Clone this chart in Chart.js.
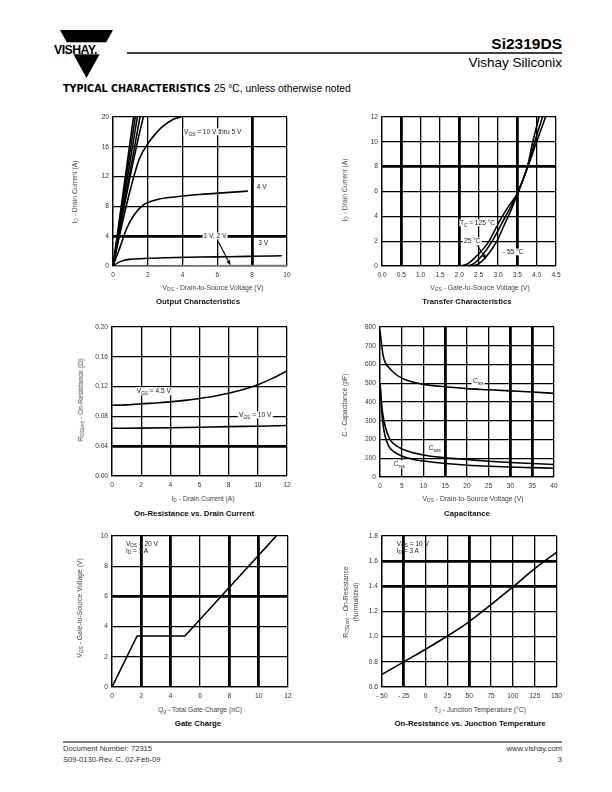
<!DOCTYPE html>
<html><head><meta charset="utf-8">
<script src="https://cdn.jsdelivr.net/npm/chart.js@4.4.1/dist/chart.umd.min.js"></script>
<style>
body{margin:0;width:612px;height:792px;position:relative;background:#fff;font-family:"Liberation Sans",Arial,sans-serif;overflow:hidden;color:#000}
.abs{position:absolute;white-space:nowrap;line-height:1}
canvas{position:absolute}
sub{font-size:72%;vertical-align:-0.3em;line-height:0}
.lbl{position:absolute;white-space:nowrap;font-size:6.6px;color:#222;background:#fff;padding:0 1px;transform:translate(-50%,-50%);line-height:1.1}
.lbll{position:absolute;white-space:nowrap;font-size:6.6px;color:#222;transform:translate(0,-50%);line-height:1}
.ytitle{position:absolute;white-space:nowrap;font-size:6.8px;color:#444;transform:translate(-50%,-50%) rotate(-90deg);text-align:center;line-height:1.5}
.xtitle{position:absolute;white-space:nowrap;font-size:6.8px;color:#444;transform:translate(-50%,-50%);line-height:1}
.ctitle{position:absolute;white-space:nowrap;font-size:7.8px;font-weight:bold;color:#111;transform:translate(-50%,-50%);line-height:1}
.foot{position:absolute;white-space:nowrap;line-height:1;font-size:7.6px;color:#333}
</style></head><body>

<svg class="abs" style="left:0;top:0" width="612" height="100">
  <polygon points="60,30 113,30 86.5,78" fill="#000"/>
  <rect x="50" y="42.3" width="70" height="12" fill="#fff"/>
  <line x1="127" y1="53" x2="562" y2="53" stroke="#000" stroke-width="1.4"/>
</svg>
<div class="abs" style="left:54px;top:43px;font-size:13px;font-weight:bold;letter-spacing:-0.6px;transform:scaleX(0.95);transform-origin:left">VISHAY.</div>
<div class="abs" style="right:50px;top:36px;font-size:15.5px;font-weight:bold">Si2319DS</div>
<div class="abs" style="right:50px;top:56px;font-size:13.5px">Vishay Siliconix</div>
<div class="abs" style="left:63px;top:84px;font-size:9.6px;font-weight:bold;font-family:'DejaVu Sans'">TYPICAL CHARACTERISTICS <span style="font-family:'Liberation Sans';font-weight:normal;font-size:10.3px">25 °C, unless otherwise noted</span></div>

<svg class="abs" style="left:0;top:735px" width="612" height="10">
  <line x1="63" y1="7" x2="562" y2="7" stroke="#000" stroke-width="1"/>
</svg>
<div class="foot" style="left:63px;top:745px">Document Number: 72315</div>
<div class="foot" style="left:63px;top:756px">S09-0130-Rev. C, 02-Feb-09</div>
<div class="foot" style="right:50px;top:745px">www.vishay.com</div>
<div class="foot" style="right:50px;top:756px">3</div>

<script>
// ---------- DATA ----------
// Output Characteristics (VDS V, ID A)
const outXTicks = ["0","2","4","6","8","10"];
const outYTicks = ["0","4","8","12","16","20"];
const outVgs10 = [[0,0],[1.18,20]];
const outVgs9  = [[0,0],[1.28,20]];
const outVgs8  = [[0,0],[1.40,20]];
const outVgs7  = [[0,0],[1.55,20]];
const outVgs6  = [[0,0],[0.5,6.3],[1.0,12.2],[1.4,16.6],[1.74,20]];
const outVgs5  = [[0,0],[0.5,5.4],[1.0,10.3],[1.5,14.3],[2.0,16.4],[2.5,17.9],[3.0,19.0],[3.4,19.6],[3.9,20]];
const outVgs4  = [[0,0],[0.4,2.5],[0.8,5.1],[1.2,6.8],[1.75,8.2],[2.5,8.9],[3.66,9.3],[5,9.6],[6.5,9.85],[7.75,10.05]];
const outVgs3  = [[0,0],[0.3,0.45],[0.6,0.75],[1,0.9],[1.75,1.0],[3,1.1],[5,1.2],[6.7,1.25],[8,1.3],[9.7,1.37]];
const outVgs12 = [[0,0],[5,0.03],[10,0.08]];

// Transfer Characteristics (VGS V, ID A)
const trXTicks = ["0.0","0.5","1.0","1.5","2.0","2.5","3.0","3.5","4.0","4.5"];
const trYTicks = ["0","2","4","6","8","10","12"];
const trT125 = [[0,0],[1.9,0],[2.2,0.15],[2.46,0.85],[2.75,1.9],[3.02,3.5],[3.25,4.7],[3.51,5.9],[3.76,7.9],[4.0,10.0],[4.23,12]];
const trT25  = [[0,0],[2.1,0],[2.35,0.15],[2.59,0.85],[2.85,2.0],[3.11,3.5],[3.3,4.6],[3.51,5.9],[3.76,7.95],[3.95,10],[4.15,12]];
const trTm55 = [[0,0],[2.2,0],[2.48,0.15],[2.72,0.85],[2.97,2.0],[3.19,3.5],[3.35,4.6],[3.51,5.9],[3.76,8.0],[3.9,10],[4.06,12]];

// On-Resistance vs Drain Current (ID A, RDS ohm)
const rdXTicks = ["0","2","4","6","8","10","12"];
const rdYTicks = ["0.00","0.04","0.08","0.12","0.16","0.20"];
const rdVgs45 = [[0,0.095],[1,0.0955],[2,0.097],[3,0.098],[4,0.0995],[5,0.1015],[6,0.104],[7,0.107],[8,0.111],[9,0.116],[10,0.1225],[11,0.131],[12,0.141]];
const rdVgs10 = [[0,0.064],[2,0.0643],[4,0.0648],[6,0.0655],[8,0.0663],[10,0.0668],[12,0.0677]];

// Capacitance (VDS V, pF)
const capXTicks = ["0","5","10","15","20","25","30","35","40"];
const capYTicks = ["0","100","200","300","400","500","600","700","800"];
const capCiss = [[0,780],[0.3,720],[0.7,650],[1.2,610],[2,585],[3,560],[5,527],[7.5,507],[10,494],[15,481],[20,471],[25,465],[30,459],[35,453],[40,446]];
const capCoss = [[0,500],[0.4,380],[0.9,300],[1.5,245],[2.2,205],[3,180],[5,150],[7.5,130],[10,117],[15,102],[20,93],[25,84],[30,77],[35,72],[40,67]];
const capCrss = [[0,500],[0.3,380],[0.7,280],[1.2,215],[2,165],[3,138],[5,112],[7.5,95],[10,85],[15,72],[20,63],[25,57],[30,53],[35,50],[40,47]];

// Gate Charge (Qg nC, VGS V)
const gcXTicks = ["0","2","4","6","8","10","12"];
const gcYTicks = ["0","2","4","6","8","10"];
const gcVgs = [[0,0],[1.71,3.38],[4.97,3.38],[11.2,10]];

// On-Resistance vs Junction Temperature (TJ degC, normalized)
const tjXTicks = ["- 50","- 25","0","25","50","75","100","125","150"];
const tjYTicks = ["0.6","0.8","1.0","1.2","1.4","1.6","1.8"];
const tjRds = [[-50,0.70],[-25,0.80],[0,0.90],[25,1.005],[50,1.12],[75,1.255],[100,1.395],[125,1.54],[150,1.67]];

// ---------- RENDER ----------
const FONT = {family:"'Liberation Sans', Arial, sans-serif", size:6.6};
const THIN = 1.3, THICK = 2.8;
const arrowPlugin = {
  id:'arrows',
  afterDatasetsDraw(chart, args, opts){
    const list = (opts && opts.list) || [];
    const ctx = chart.ctx, xs = chart.scales.x, ys = chart.scales.y;
    ctx.save();
    ctx.strokeStyle = '#000'; ctx.fillStyle = '#000'; ctx.lineWidth = 1.1;
    list.forEach(a=>{
      const x1 = xs.getPixelForValue(a.from[0]), y1 = ys.getPixelForValue(a.from[1]);
      const x2 = xs.getPixelForValue(a.to[0]), y2 = ys.getPixelForValue(a.to[1]);
      const ang = Math.atan2(y2-y1, x2-x1), L = 5, W = 2;
      const bx = x2 - L*Math.cos(ang), by = y2 - L*Math.sin(ang);
      ctx.beginPath(); ctx.moveTo(x1,y1); ctx.lineTo(bx,by); ctx.stroke();
      ctx.beginPath(); ctx.moveTo(x2,y2);
      ctx.lineTo(bx + W*Math.sin(ang), by - W*Math.cos(ang));
      ctx.lineTo(bx - W*Math.sin(ang), by + W*Math.cos(ang));
      ctx.closePath(); ctx.fill();
    });
    ctx.restore();
  }
};

function near(arr, v){ return arr.some(a=>Math.abs(a-v)<1e-6); }

function makeChart(cfg){
  const {l,t,r,b} = cfg.rect;
  const PL=30, PT=6, PR=10, PB=18;
  const cv = document.createElement('canvas');
  const w = r-l+PL+PR, h = b-t+PT+PB;
  cv.width=w; cv.height=h;
  cv.style.left=(l-PL)+'px'; cv.style.top=(t-PT)+'px';
  cv.style.width=w+'px'; cv.style.height=h+'px';
  document.body.appendChild(cv);
  const gridW = arr => ctx => (ctx.tick && near(arr, ctx.tick.value)) ? THICK : THIN;
  const chart = new Chart(cv, {
    type:'scatter',
    data:{datasets: cfg.series.map(s=>({
      data: s.pts.map(p=>({x:p[0], y:p[1]})),
      showLine:true, borderColor:s.color||'#000', borderWidth:s.w||1.6,
      pointRadius:0, pointHoverRadius:0, fill:false,
      cubicInterpolationMode: s.straight ? 'default' : 'monotone', tension:0
    }))},
    options:{
      responsive:false, animation:false, devicePixelRatio:1,
      layout:{padding:{top:PT,right:PR,left:0,bottom:0}},
      plugins:{legend:{display:false}, tooltip:{enabled:false}, arrows:{list: cfg.arrows||[]}},
      events:[],
      scales:{
        x:{type:'linear', min:cfg.x[0], max:cfg.x[1],
           afterFit:s=>{s.height=PB;},
           ticks:{stepSize:cfg.x[2], autoSkip:false, maxRotation:0, minRotation:0, padding:5, font:FONT, color:'#333',
                  callback:(v,i)=>cfg.xLabels[i]},
           grid:{color:'#000', lineWidth:gridW(cfg.xThick||[]), drawTicks:false},
           border:{display:true, color:'#000', width:THIN}},
        y:{type:'linear', min:cfg.y[0], max:cfg.y[1],
           afterFit:s=>{s.width=PL;},
           ticks:{stepSize:cfg.y[2], autoSkip:false, padding:4, font:FONT, color:'#333',
                  callback:(v,i)=>cfg.yLabels[i]},
           grid:{color:'#000', lineWidth:gridW(cfg.yThick||[]), drawTicks:false},
           border:{display:true, color:'#000', width:THIN}}
      }
    },
    plugins:[arrowPlugin]
  });
  const offX = l-PL, offY = t-PT;
  (cfg.labels||[]).forEach(lb=>{
    const d = document.createElement('div');
    d.className = lb.left ? 'lbll' : 'lbl';
    d.innerHTML = lb.html;
    d.style.left = (offX + chart.scales.x.getPixelForValue(lb.at[0]))+'px';
    d.style.top = (offY + chart.scales.y.getPixelForValue(lb.at[1]))+'px';
    document.body.appendChild(d);
  });
  return chart;
}

function text(cls, x, y, html){
  const d = document.createElement('div');
  d.className = cls; d.innerHTML = html;
  d.style.left = x+'px'; d.style.top = y+'px';
  document.body.appendChild(d);
}

// Chart 1
makeChart({rect:{l:113,t:115,r:287,b:266}, x:[0,10,2], y:[0,20,4],
  xLabels:outXTicks, yLabels:outYTicks, xThick:[8], yThick:[4],
  series:[{pts:outVgs10},{pts:outVgs9},{pts:outVgs8},{pts:outVgs7},{pts:outVgs6},{pts:outVgs5},
          {pts:outVgs4},{pts:outVgs3},{pts:outVgs12,color:'#777',w:1.4}],
  arrows:[{from:[6.05,3.3],to:[6.75,0.1]}],
  labels:[{at:[5.73,18.0],html:'V<sub>GS</sub> = 10 V thru 5 V'},
          {at:[8.54,10.6],html:'4 V'},
          {at:[8.63,3.05],html:'3 V'},
          {at:[5.86,4.0],html:'1 V, 2 V'}]});
text('ytitle',75,192,'I<sub>D</sub> - Drain Current (A)');
text('xtitle',213,288,'V<sub>DS</sub> - Drain-to-Source Voltage (V)');
text('ctitle',198,301.5,'Output Characteristics');

// Chart 2
makeChart({rect:{l:382,t:115,r:556,b:266}, x:[0,4.5,0.5], y:[0,12,2],
  xLabels:trXTicks, yLabels:trYTicks, xThick:[0.5,2.0,3.5], yThick:[8],
  series:[{pts:trT125},{pts:trT25},{pts:trTm55}],
  arrows:[{from:[2.46,1.67],to:[2.70,0.55]}],
  labels:[{at:[2.47,3.47],html:'T<sub>C</sub> = 125 °C'},
          {at:[2.33,1.99],html:'25 °C'},
          {at:[3.39,1.14],html:'- 55 °C'}]});
text('ytitle',345,190,'I<sub>D</sub> - Drain Current (A)');
text('xtitle',480,288,'V<sub>GS</sub> - Gate-to-Source Voltage (V)');
text('ctitle',467,301.5,'Transfer Characteristics');

// Chart 3
makeChart({rect:{l:112,t:325,r:287,b:476}, x:[0,12,2], y:[0,0.2,0.04],
  xLabels:rdXTicks, yLabels:rdYTicks, xThick:[], yThick:[0.04],
  series:[{pts:rdVgs45},{pts:rdVgs10}],
  labels:[{at:[2.87,0.1135],html:'V<sub>GS</sub> = 4.5 V'},
          {at:[9.82,0.0817],html:'V<sub>GS</sub> = 10 V'}]});
text('ytitle',81,400,'R<sub>DS(on)</sub> - On-Resistance (Ω)');
text('xtitle',203,499,'I<sub>D</sub> - Drain Current (A)');
text('ctitle',194,514,'On-Resistance vs. Drain Current');

// Chart 4
makeChart({rect:{l:380,t:325,r:554,b:477}, x:[0,40,5], y:[0,800,100],
  xLabels:capXTicks, yLabels:capYTicks, xThick:[15,30,35], yThick:[],
  series:[{pts:capCiss},{pts:capCoss},{pts:capCrss}],
  labels:[{at:[22.6,510],html:'C<sub>iss</sub>'},
          {at:[12.6,155],html:'C<sub>oss</sub>'},
          {at:[4.45,67],html:'C<sub>rss</sub>'}]});
text('ytitle',345,405,'C - Capacitance (pF)');
text('xtitle',473,499,'V<sub>DS</sub> - Drain-to-Source Voltage (V)');
text('ctitle',467,514,'Capacitance');

// Chart 5
makeChart({rect:{l:112,t:534,r:288,b:687}, x:[0,12,2], y:[0,10,2],
  xLabels:gcXTicks, yLabels:gcYTicks, xThick:[2,4,8,10], yThick:[6],
  series:[{pts:gcVgs,straight:true}],
  labels:[{at:[0.95,9.48],html:'V<sub>DS</sub> = 20 V',left:true},
          {at:[0.95,9.02],html:'I<sub>D</sub> = 3 A',left:true}]});
text('ytitle',80,608,'V<sub>GS</sub> - Gate-to-Source Voltage (V)');
text('xtitle',200,710,'Q<sub>g</sub> - Total Gate Charge (nC)');
text('ctitle',198,724,'Gate Charge');

// Chart 6
makeChart({rect:{l:382,t:534,r:557,b:687}, x:[-50,150,25], y:[0.6,1.8,0.2],
  xLabels:tjXTicks, yLabels:tjYTicks, xThick:[-25,50], yThick:[1.4,1.6],
  series:[{pts:tjRds}],
  labels:[{at:[-33.2,1.737],html:'V<sub>GS</sub> = 10 V',left:true},
          {at:[-33.2,1.682],html:'I<sub>D</sub> = 3 A',left:true}]});
text('ytitle',351,602,'R<sub>DS(on)</sub> - On-Resistance<br>(Normalized)');
text('xtitle',480,710,'T<sub>J</sub> - Junction Temperature (°C)');
text('ctitle',470,724,'On-Resistance vs. Junction Temperature');
</script>
</body></html>
